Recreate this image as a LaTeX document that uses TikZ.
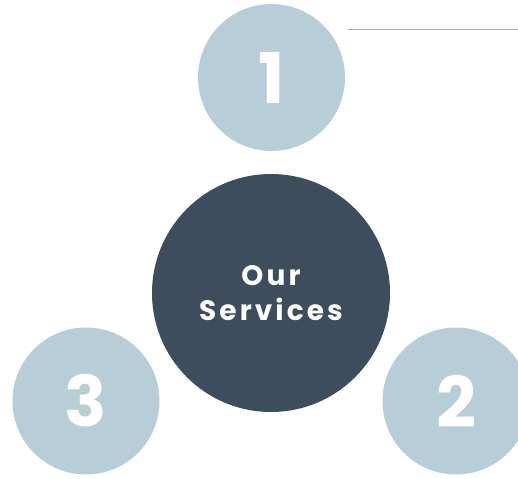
\documentclass[tikz,border=0pt]{standalone}
\usepackage{fontspec}
\setmainfont{Poppins}
\definecolor{paleblue}{HTML}{B7CED9}
\definecolor{slate}{HTML}{3D4D5E}
\definecolor{rulegray}{HTML}{ABABAB}
\tikzset{
  numcircle/.style={circle, fill=paleblue, inner sep=0pt, minimum size=147pt,
    text=white, font=\fontsize{70}{70}\selectfont\bfseries},
  hubcircle/.style={circle, fill=slate, inner sep=0pt, minimum size=238pt,
    text=white, align=center,
    font=\fontsize{28}{35}\selectfont\bfseries\addfontfeatures{LetterSpace=11}}
}
\begin{document}
\begin{tikzpicture}[x=1pt, y=-1pt]
        % Fix the frame of the picture
        \clip (0,0) rectangle (518,478);

        % Centre circle
        \node[hubcircle] (hub) at (271,293) {Our\\Services};

        % Numbered circles round it
        \node[numcircle] (one) at (271.5,77.5) {1};   % Top
        \node[numcircle] (two) at (456,401) {2};      % Bottom right
        \node[numcircle] (three) at (86,401) {3};     % Bottom left

        % Thin rule at top right
        \coordinate (ruleL) at (348,29.5);
        \coordinate (ruleR) at (518,29.5);
        \draw[rulegray, line width=1pt] (ruleL) -- (ruleR);
    \end{tikzpicture}
\end{document}
